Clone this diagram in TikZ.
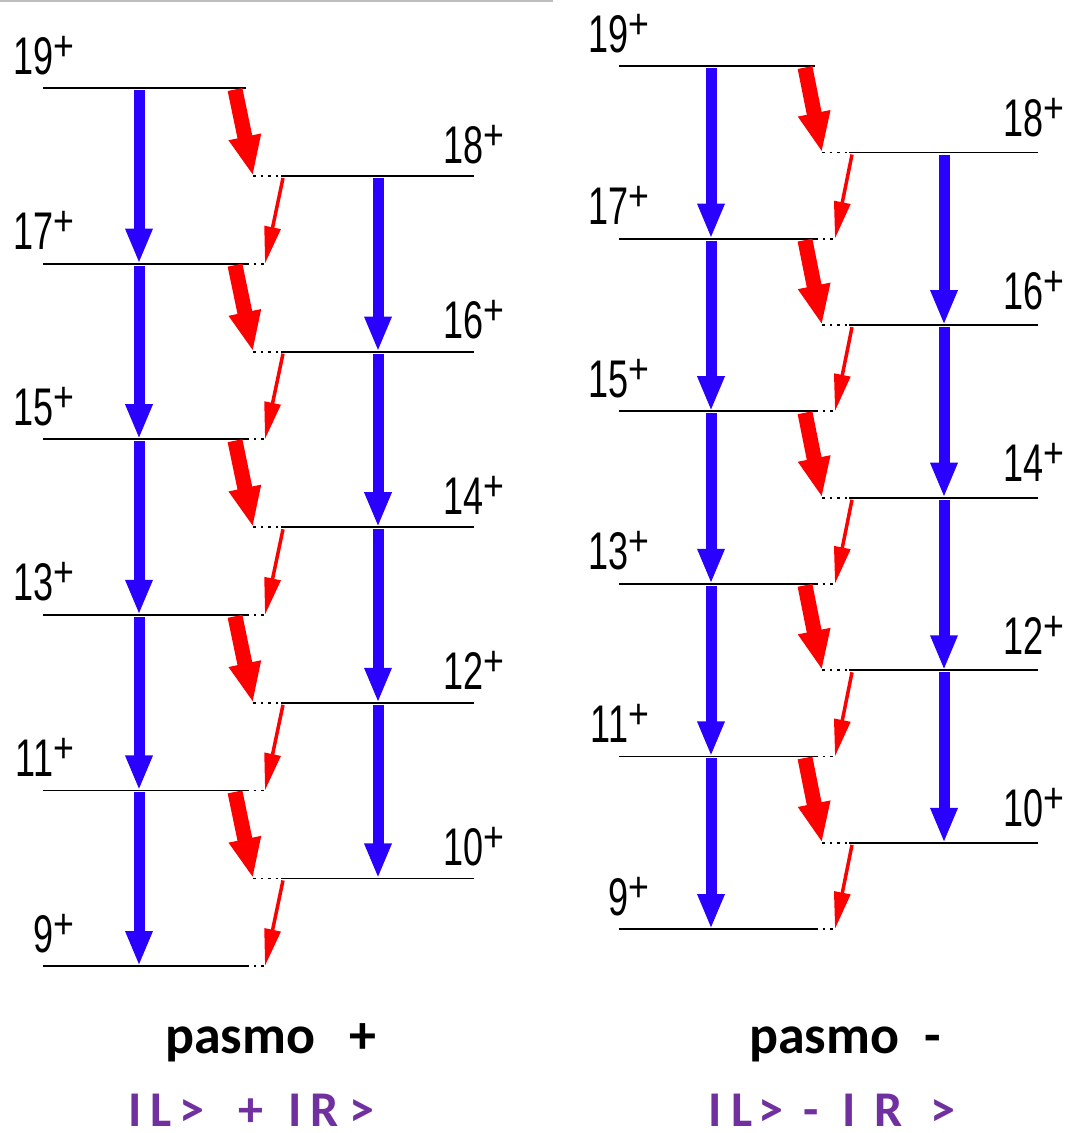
\documentclass[tikz,border=0pt]{standalone}
\usepackage{fontspec}
\setmainfont{Liberation Sans}
\newfontfamily\calib{Carlito}
\usetikzlibrary{arrows.meta}
\definecolor{bluec}{RGB}{42,0,255}
\definecolor{purp}{RGB}{112,48,160}
\definecolor{topgray}{RGB}{190,190,190}
\newcommand{\lvlab}[1]{\scalebox{0.68}[1]{\fontsize{53}{53}\selectfont #1}\raisebox{14pt}{\scalebox{0.85}[1]{\fontsize{42}{42}\selectfont +}}}
\begin{document}
\begin{tikzpicture}[x=1pt,y=-1pt,
  level/.style={line width=1.8pt, black},
  lvldots/.style={line width=1.8pt, black, dash pattern=on 2.5pt off 5pt},
  bluearrow/.style={draw=bluec, line width=11pt, -{Triangle[length=35pt,width=25pt]}},
  thickred/.style={draw=red, line width=15pt, -{Triangle[length=40pt,width=30pt]}},
  thinred/.style={draw=red, line width=3.5pt, -{Triangle[length=37pt,width=16pt]}},
  lvl/.style={inner sep=0pt, outer sep=0pt},
  caption/.style={inner sep=0pt, anchor=base west, font=\calib\bfseries\fontsize{54}{54}\selectfont},
  ket/.style={inner sep=0pt, anchor=base west, text=purp, font=\calib\bfseries\fontsize{50}{50}\selectfont}]
\useasboundingbox (0,0) rectangle (1068,1133);
\draw[topgray, line width=2pt] (0,1) -- (553,1);

% ---------- left panel ----------
\foreach \k in {0,...,5}{
  \pgfmathsetmacro\yy{88+175.6*\k}
  \pgfmathtruncatemacro\J{19-2*\k}
  \coordinate (LO\k w) at (43,\yy);
  \coordinate (LO\k e) at (246,\yy);
  \coordinate (LO\k d) at (265,\yy);
  \coordinate (LO\k b) at (139,\yy);
  \coordinate (LO\k r) at (235,\yy);
  \node[lvl, anchor=base east] (LO\k lab) at (74,\yy-14) {\lvlab{\J}};
  \draw[level] (LO\k w) -- (LO\k e);
}
\foreach \k in {1,...,5}{
  \draw[lvldots] (LO\k e) -- (LO\k d);
}
\foreach \k in {0,...,4}{
  \pgfmathsetmacro\yy{176+175.6*\k}
  \pgfmathtruncatemacro\J{18-2*\k}
  \coordinate (LE\k t) at (253,\yy);
  \coordinate (LE\k w) at (281,\yy);
  \coordinate (LE\k e) at (474,\yy);
  \coordinate (LE\k b) at (378,\yy);
  \coordinate (LE\k s) at (283,\yy);
  \node[lvl, anchor=base east] (LE\k lab) at (504,\yy-13) {\lvlab{\J}};
  \draw[lvldots] (LE\k t) -- (LE\k w);
  \draw[level] (LE\k w) -- (LE\k e);
}
\foreach \k [evaluate=\k as \n using int(\k+1)] in {0,...,4}{
  \draw[bluearrow] ([yshift=-2pt]LO\k b) -- (LO\n b);
  \draw[thickred] ([yshift=-1.5pt]LO\k r) -- (LE\k t);
  \draw[thinred] ([yshift=-2pt]LE\k s) -- (LO\n d);
}
\foreach \k [evaluate=\k as \n using int(\k+1)] in {0,...,3}{
  \draw[bluearrow] ([yshift=-2pt]LE\k b) -- (LE\n b);
}

% ---------- right panel ----------
\foreach \k in {0,...,5}{
  \pgfmathsetmacro\yy{66+172.6*\k}
  \pgfmathtruncatemacro\J{19-2*\k}
  \coordinate (RO\k w) at (619,\yy);
  \coordinate (RO\k e) at (815,\yy);
  \coordinate (RO\k d) at (835,\yy);
  \coordinate (RO\k b) at (711,\yy);
  \coordinate (RO\k r) at (805,\yy);
  \node[lvl, anchor=base east] (RO\k lab) at (649,\yy-14) {\lvlab{\J}};
  \draw[level] (RO\k w) -- (RO\k e);
}
\foreach \k in {1,...,5}{
  \draw[lvldots] (RO\k e) -- (RO\k d);
}
\foreach \k in {0,...,4}{
  \pgfmathsetmacro\yy{152.5+172.6*\k}
  \pgfmathtruncatemacro\J{18-2*\k}
  \coordinate (RE\k t) at (822,\yy);
  \coordinate (RE\k w) at (849,\yy);
  \coordinate (RE\k e) at (1038,\yy);
  \coordinate (RE\k b) at (944,\yy);
  \coordinate (RE\k s) at (852,\yy);
  \node[lvl, anchor=base east] (RE\k lab) at (1064,\yy-16) {\lvlab{\J}};
  \draw[lvldots] (RE\k t) -- (RE\k w);
  \draw[level] (RE\k w) -- (RE\k e);
}
\foreach \k [evaluate=\k as \n using int(\k+1)] in {0,...,4}{
  \draw[bluearrow] ([yshift=-2pt]RO\k b) -- (RO\n b);
  \draw[thickred] ([yshift=-1.5pt]RO\k r) -- (RE\k t);
  \draw[thinred] ([yshift=-2pt]RE\k s) -- (RO\n d);
}
\foreach \k [evaluate=\k as \n using int(\k+1)] in {0,...,3}{
  \draw[bluearrow] ([yshift=-2pt]RE\k b) -- (RE\n b);
}

% ---------- captions ----------
\node[caption] (capL) at (165,1053) {pasmo\hspace{34pt}+};
\node[caption] (capR) at (749,1053) {pasmo\hspace{25pt}-};
\node[ket] (ketL) at (128,1126) {I\hspace{9pt}L\hspace{8pt}>\hspace{34pt}+\hspace{25pt}I\hspace{9pt}R\hspace{10pt}>};
\node[ket] (ketR) at (708,1126) {I\hspace{10pt}L\hspace{6pt}>\hspace{20pt}-\hspace{24pt}I\hspace{18pt}R\hspace{28pt}>};
\end{tikzpicture}
\end{document}
